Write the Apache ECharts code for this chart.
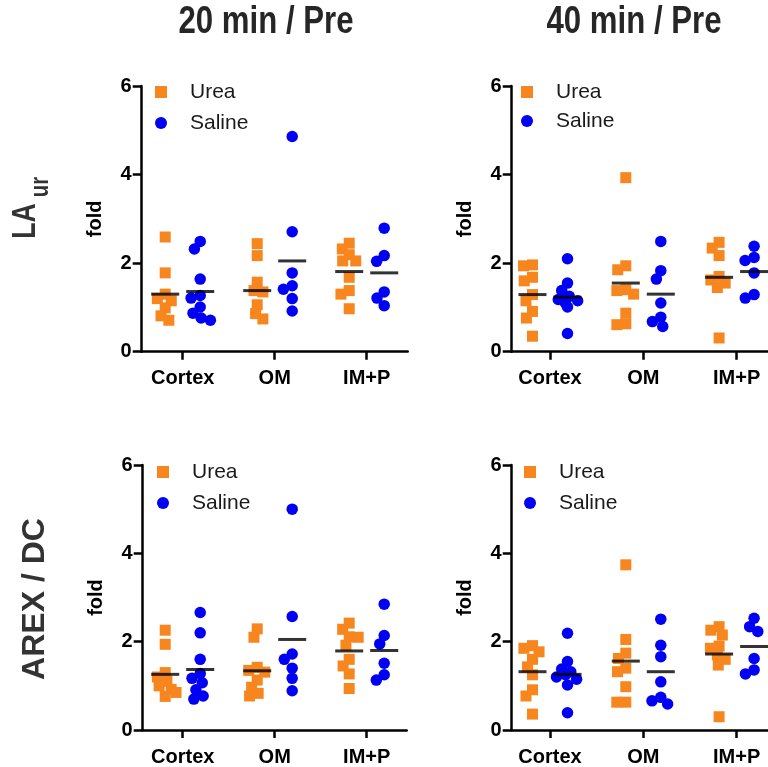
<!DOCTYPE html>
<html><head><meta charset="utf-8">
<script src="https://cdn.jsdelivr.net/npm/echarts@6/dist/echarts.min.js"></script>
<style>html,body{margin:0;padding:0;background:#fff}#c{width:768px;height:767px}</style>
</head><body><div id="c"></div>
<script>
const FONT = "'Liberation Sans', Arial, Helvetica, sans-serif";
const categories = ['Cortex', 'OM', 'IM+P'];
const yTickValues = [0, 2, 4, 6];
const seriesNames = ['Urea', 'Saline'];
const columnTitles = ['20 min / Pre', '40 min / Pre'];
const rowTitleMain = ['LA', 'AREX / DC'];
const rowTitleSub = ['ur', ''];
const yName = 'fold';

// LAur, 20 min / Pre
const laur20Urea = [
  [2.59, 1.78, 1.30, 1.20, 1.15, 0.99, 0.81, 0.71],
  [2.44, 2.17, 1.57, 1.38, 1.35, 1.06, 0.86, 0.74],
  [2.45, 2.32, 2.19, 2.05, 2.05, 1.68, 1.38, 1.30, 0.97]
];
const laur20Saline = [
  [2.49, 2.32, 1.64, 1.27, 1.21, 1.01, 0.87, 0.76, 0.71],
  [4.86, 2.71, 1.78, 1.49, 1.41, 1.20, 0.92],
  [2.79, 2.17, 2.04, 1.35, 1.21, 1.04]
];
const laur20UreaMean = [1.30, 1.38, 1.81];
const laur20SalineMean = [1.36, 2.05, 1.78];

// LAur, 40 min / Pre
const laur40Urea = [
  [1.96, 1.94, 1.68, 1.60, 1.29, 1.15, 0.91, 0.76, 0.35],
  [3.93, 1.94, 1.85, 1.40, 1.38, 1.30, 0.87, 0.63, 0.61],
  [2.47, 2.34, 2.17, 1.70, 1.62, 1.55, 1.45, 0.31]
];
const laur40Saline = [
  [2.10, 1.55, 1.38, 1.25, 1.18, 1.15, 1.10, 1.01, 0.41],
  [2.49, 1.83, 1.64, 1.10, 0.78, 0.68, 0.57],
  [2.38, 2.13, 2.06, 1.78, 1.29, 1.21]
];
const laur40UreaMean = [1.29, 1.55, 1.68];
const laur40SalineMean = [1.23, 1.30, 1.81];

// AREX / DC, 20 min / Pre
const arex20Urea = [
  [2.26, 1.94, 1.30, 1.20, 1.10, 1.00, 0.92, 0.85, 0.76],
  [2.29, 2.10, 1.42, 1.35, 1.31, 1.13, 0.97, 0.83, 0.77],
  [2.42, 2.28, 2.11, 2.10, 1.92, 1.60, 1.45, 1.27, 0.94]
];
const arex20Saline = [
  [2.66, 2.20, 1.60, 1.28, 1.17, 1.07, 0.91, 0.77, 0.70],
  [5.00, 2.57, 1.72, 1.60, 1.40, 1.17, 0.89],
  [2.85, 2.14, 1.95, 1.51, 1.25, 1.13]
];
const arex20UreaMean = [1.26, 1.34, 1.79];
const arex20SalineMean = [1.37, 2.05, 1.80];

// AREX / DC, 40 min / Pre
const arex40Urea = [
  [1.91, 1.85, 1.77, 1.60, 1.43, 1.25, 0.91, 0.77, 0.36],
  [3.74, 2.05, 1.74, 1.62, 1.40, 1.32, 0.98, 0.63, 0.63],
  [2.34, 2.26, 2.15, 1.90, 1.85, 1.70, 1.60, 1.47, 0.30]
];
const arex40Saline = [
  [2.19, 1.55, 1.38, 1.32, 1.25, 1.20, 1.15, 1.02, 0.39],
  [2.51, 1.92, 1.66, 1.09, 0.74, 0.66, 0.59],
  [2.53, 2.34, 2.23, 1.62, 1.36, 1.27]
];
const arex40UreaMean = [1.32, 1.56, 1.72];
const arex40SalineMean = [1.26, 1.32, 1.89];

const ORANGE = '#F7861E';
const BLUE = '#0000F5';
const TEXT = '#1a1a1a';
const OFF = 17.5;

const panels = [
  {urea: laur20Urea, saline: laur20Saline, ureaMean: laur20UreaMean, salineMean: laur20SalineMean,
   axisX: 141.7, top: 86, bottom: 351.7, firstGap: 41, step: 92, legendX: 161, legendY: 91, legendStep: 31},
  {urea: laur40Urea, saline: laur40Saline, ureaMean: laur40UreaMean, salineMean: laur40SalineMean,
   axisX: 511.7, top: 86, bottom: 351.7, firstGap: 38.3, step: 93.3, legendX: 527, legendY: 91, legendStep: 29},
  {urea: arex20Urea, saline: arex20Saline, ureaMean: arex20UreaMean, salineMean: arex20SalineMean,
   axisX: 142.7, top: 465, bottom: 730, firstGap: 40, step: 92, legendX: 163, legendY: 471, legendStep: 31},
  {urea: arex40Urea, saline: arex40Saline, ureaMean: arex40UreaMean, salineMean: arex40SalineMean,
   axisX: 511.7, top: 465, bottom: 730, firstGap: 38.3, step: 93.3, legendX: 530, legendY: 471, legendStep: 31}
];

const grid = [], xAxis = [], yAxis = [], series = [], legend = [];
const LEG_ICON = 12, LEG_LH = 22, LEG_TEXT_GAP = 29;

panels.forEach((p, k) => {
  const h = p.bottom - p.top;
  const gMain = grid.length;
  grid.push({left: p.axisX, top: p.top, width: 2 * p.firstGap + 2 * p.step, height: h, outerBoundsMode: 'none'});
  grid.push({left: p.axisX + p.firstGap - OFF - p.step / 2, top: p.top, width: 3 * p.step, height: h, outerBoundsMode: 'none'});
  grid.push({left: p.axisX + p.firstGap + OFF - p.step / 2, top: p.top, width: 3 * p.step, height: h, outerBoundsMode: 'none'});
  const gap = p.firstGap / p.step;
  const catVals = categories.map((c, i) => i + 1);
  xAxis.push({
    gridIndex: gMain, type: 'value', min: 1 - gap, max: 3 + gap,
    splitLine: {show: false},
    axisLine: {show: true, lineStyle: {color: '#000', width: 2.5}},
    axisTick: {show: true, length: 8, lineStyle: {color: '#000', width: 2.5}, customValues: catVals},
    axisLabel: {show: true, customValues: catVals, formatter: v => categories[Math.round(v) - 1] || '',
      color: '#000', fontWeight: 'bold', fontSize: 20, fontFamily: FONT, margin: 17}
  });
  yAxis.push({
    gridIndex: gMain, type: 'value', min: yTickValues[0], max: yTickValues[yTickValues.length - 1], interval: 2,
    name: yName, nameLocation: 'middle', nameGap: 36, nameRotate: 90,
    nameTextStyle: {color: '#000', fontWeight: 'bold', fontSize: 20, fontFamily: FONT},
    splitLine: {show: false},
    axisLine: {show: true, lineStyle: {color: '#000', width: 2.5}},
    axisTick: {show: true, length: 9, lineStyle: {color: '#000', width: 2.5}},
    axisLabel: {color: '#000', fontWeight: 'bold', fontSize: 20, fontFamily: FONT, margin: 10}
  });
  for (let j = 1; j <= 2; j++) {
    xAxis.push({gridIndex: gMain + j, type: 'category', data: categories, show: false,
      jitter: 24, jitterOverlap: false, jitterMargin: -2});
    yAxis.push({gridIndex: gMain + j, type: 'value', min: 0, max: 6, show: false});
  }
  const xi = xAxis.length - 3, yi = yAxis.length - 3;
  series.push({
    type: 'scatter', name: seriesNames[0], xAxisIndex: xi + 1, yAxisIndex: yi + 1,
    symbol: 'rect', symbolSize: 11, itemStyle: {color: ORANGE, opacity: 1}, z: 2,
    data: p.urea.flatMap((arr, i) => arr.map(v => [i, v]))
  });
  series.push({
    type: 'scatter', name: seriesNames[1], xAxisIndex: xi + 2, yAxisIndex: yi + 2,
    symbol: 'circle', symbolSize: 11.5, itemStyle: {color: BLUE, opacity: 1}, z: 2,
    data: p.saline.flatMap((arr, i) => arr.map(v => [i, v]))
  });
  series.push({
    type: 'scatter', name: 'meanU' + k, xAxisIndex: xi, yAxisIndex: yi,
    symbol: 'rect', symbolSize: [28, 3], itemStyle: {color: '#000'}, z: 4,
    data: p.ureaMean.map((m, i) => [i + 1 - OFF / p.step, m])
  });
  series.push({
    type: 'scatter', name: 'meanS' + k, xAxisIndex: xi, yAxisIndex: yi,
    symbol: 'rect', symbolSize: [28, 3], itemStyle: {color: '#000'}, z: 4,
    data: p.salineMean.map((m, i) => [i + 1 + OFF / p.step, m])
  });
  legend.push({
    data: seriesNames, orient: 'vertical', left: p.legendX - LEG_ICON / 2, top: p.legendY - LEG_LH / 2 + 1,
    padding: 0, itemWidth: LEG_ICON, itemHeight: LEG_ICON, itemGap: p.legendStep - LEG_LH, selectedMode: false,
    textStyle: {fontSize: 21, color: TEXT, fontFamily: FONT, lineHeight: LEG_LH,
      padding: [0, 0, 0, LEG_TEXT_GAP - LEG_ICON / 2 - 5]}
  });
});

const graphic = [
  {type: 'text', x: 266, y: 23, scaleX: 0.82, style: {text: columnTitles[0], font: 'bold 38px ' + FONT, fill: '#262626', align: 'center', verticalAlign: 'middle'}},
  {type: 'text', x: 634, y: 23, scaleX: 0.82, style: {text: columnTitles[1], font: 'bold 38px ' + FONT, fill: '#262626', align: 'center', verticalAlign: 'middle'}},
  {type: 'text', x: 26, y: 221, rotation: Math.PI / 2, scaleX: 0.78, style: {text: rowTitleMain[0], font: 'bold 34px ' + FONT, fill: '#333', align: 'center', verticalAlign: 'middle'}},
  {type: 'text', x: 41, y: 187, rotation: Math.PI / 2, scaleX: 0.78, style: {text: rowTitleSub[0], font: 'bold 26px ' + FONT, fill: '#333', align: 'center', verticalAlign: 'middle'}},
  {type: 'text', x: 35, y: 599, rotation: Math.PI / 2, style: {text: rowTitleMain[1], font: 'bold 32px ' + FONT, fill: '#333', align: 'center', verticalAlign: 'middle'}}
];

const chart = echarts.init(document.getElementById('c'), null, {renderer: 'canvas'});
chart.setOption({animation: false, backgroundColor: '#fff', grid, xAxis, yAxis, series, legend, graphic, tooltip: {show: false}});
</script></body></html>
